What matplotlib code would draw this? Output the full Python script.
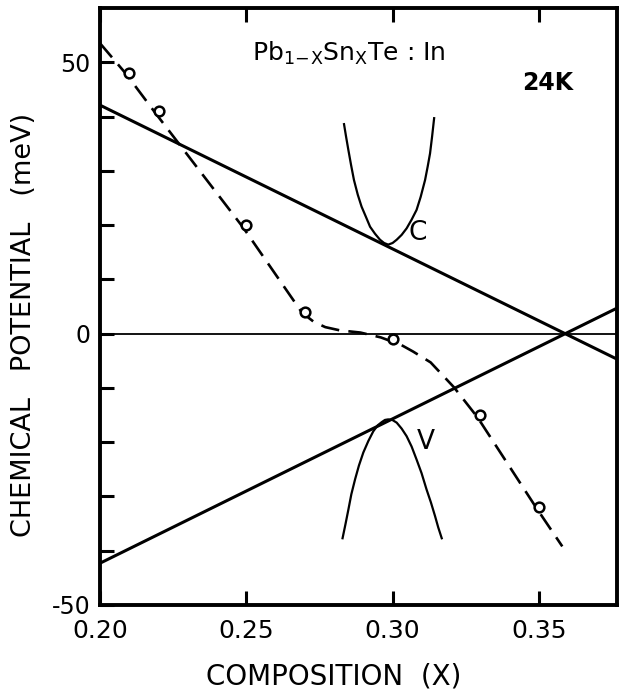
#%%
import numpy as np
import matplotlib.pyplot as plt

#%% values

# measured points (open circles)
comp_pts = [0.21, 0.22, 0.25, 0.27, 0.30, 0.33, 0.35]
mu_pts = [48, 41, 20, 4, -1, -15, -32]

# hand drawn dashed guide through the points
guide_x = [0.200, 0.209, 0.219, 0.249, 0.269, 0.273, 0.277, 0.282, 0.289,
           0.296, 0.299, 0.303, 0.307, 0.313, 0.321, 0.329, 0.349, 0.358]
guide_y = [53.5, 47.8, 40.6, 19.5, 3.9, 2.2, 1.2, 0.6, 0.2,
           -0.7, -1.3, -2.1, -3.3, -5.3, -9.9, -15.4, -32.0, -39.2]

# band edges (straight lines)
edge_x = [0.20, 0.3767]
cband_y = [42.1, -4.7]
vband_y = [-42.3, 4.7]

# sketched conduction band
cpar_x = [0.2834, 0.2841, 0.2849, 0.2858, 0.2868, 0.2881, 0.2894, 0.2909,
          0.2923, 0.2940, 0.2957, 0.2971, 0.2985, 0.3000, 0.3014, 0.3031,
          0.3048, 0.3065, 0.3082, 0.3096, 0.3111, 0.3120, 0.3128, 0.3135,
          0.3142]
cpar_y = [38.6, 36.3, 33.8, 31.1, 28.3, 25.6, 23.4, 21.5,
          19.7, 18.4, 17.3, 16.7, 16.4, 16.7, 17.3, 18.2,
          19.4, 21.0, 22.8, 25.2, 28.3, 30.8, 33.2, 36.3,
          39.7]

# sketched valence band
vpar_x = [0.2829, 0.2839, 0.2849, 0.2859, 0.2872, 0.2885, 0.2900, 0.2917,
          0.2934, 0.2949, 0.2963, 0.2974, 0.2985, 0.2999, 0.3014, 0.3031,
          0.3048, 0.3065, 0.3082, 0.3099, 0.3116, 0.3131, 0.3145, 0.3156,
          0.3168]
vpar_y = [-37.7, -35.1, -32.4, -29.6, -26.8, -24.3, -21.9, -19.8,
          -18.0, -16.9, -16.3, -15.9, -15.8, -15.9, -16.4, -17.5,
          -18.9, -20.8, -23.2, -25.7, -28.7, -31.1, -33.6, -35.7,
          -37.7]

yticks = [-50, -40, -30, -20, -10, 0, 10, 20, 30, 40, 50]
ytick_labels = ['-50', '', '', '', '', '0', '', '', '', '', '50']
xticks = [0.20, 0.25, 0.30, 0.35]
xtick_labels = ['0.20', '0.25', '0.30', '0.35']

#%% figure
fig = plt.figure(figsize=(6.2, 6.92), dpi=100)
ax = fig.add_axes([100/620, 1 - 605/692, 517/620, 597/692])

ax.axhline(0, color='k', lw=1.3, zorder=1)
ax.plot(edge_x, cband_y, color='k', lw=2.2, solid_capstyle='butt')
ax.plot(edge_x, vband_y, color='k', lw=2.2, solid_capstyle='butt')
ax.plot(cpar_x, cpar_y, color='k', lw=1.6)
ax.plot(vpar_x, vpar_y, color='k', lw=1.6)
ax.plot(guide_x, guide_y, color='k', lw=1.9, linestyle=(0, (7, 3.5)))
ax.plot(comp_pts, mu_pts, 'o', ms=7, mfc='white', mec='k', mew=1.8, zorder=5)

ax.set_xlim(0.20, 0.3767)
ax.set_ylim(-50, 60)

ax.set_yticks(yticks)
ax.set_yticklabels(ytick_labels, fontsize=17)
ax.set_xticks(xticks)
ax.set_xticklabels(xtick_labels, fontsize=18)
ax.tick_params(axis='both', direction='in', length=10, width=2.2)
ax.tick_params(axis='x', top=True, pad=10)
ax.tick_params(axis='y', pad=7)
for s in ax.spines.values():
    s.set_linewidth(2.8)

ax.text(0.2518, 50.3, r'Pb$_{\mathrm{1\!-\!X}}$Sn$_{\mathrm{X}}$Te : In', fontsize=18)
ax.text(0.353, 46.1, '24K', fontsize=17, fontweight='bold', ha='center', va='center')
ax.text(0.3087, 18.6, 'C', fontsize=19, ha='center', va='center')
ax.text(0.3114, -19.9, 'V', fontsize=19, ha='center', va='center')

fig.text(334/620, 1 - 677/692, 'COMPOSITION  (X)', fontsize=20, ha='center', va='center')
fig.text(24/620, 1 - 325/692, 'CHEMICAL   POTENTIAL   (meV)', fontsize=19.5,
         rotation=90, ha='center', va='center')

fig.savefig('out.png', dpi=100)
